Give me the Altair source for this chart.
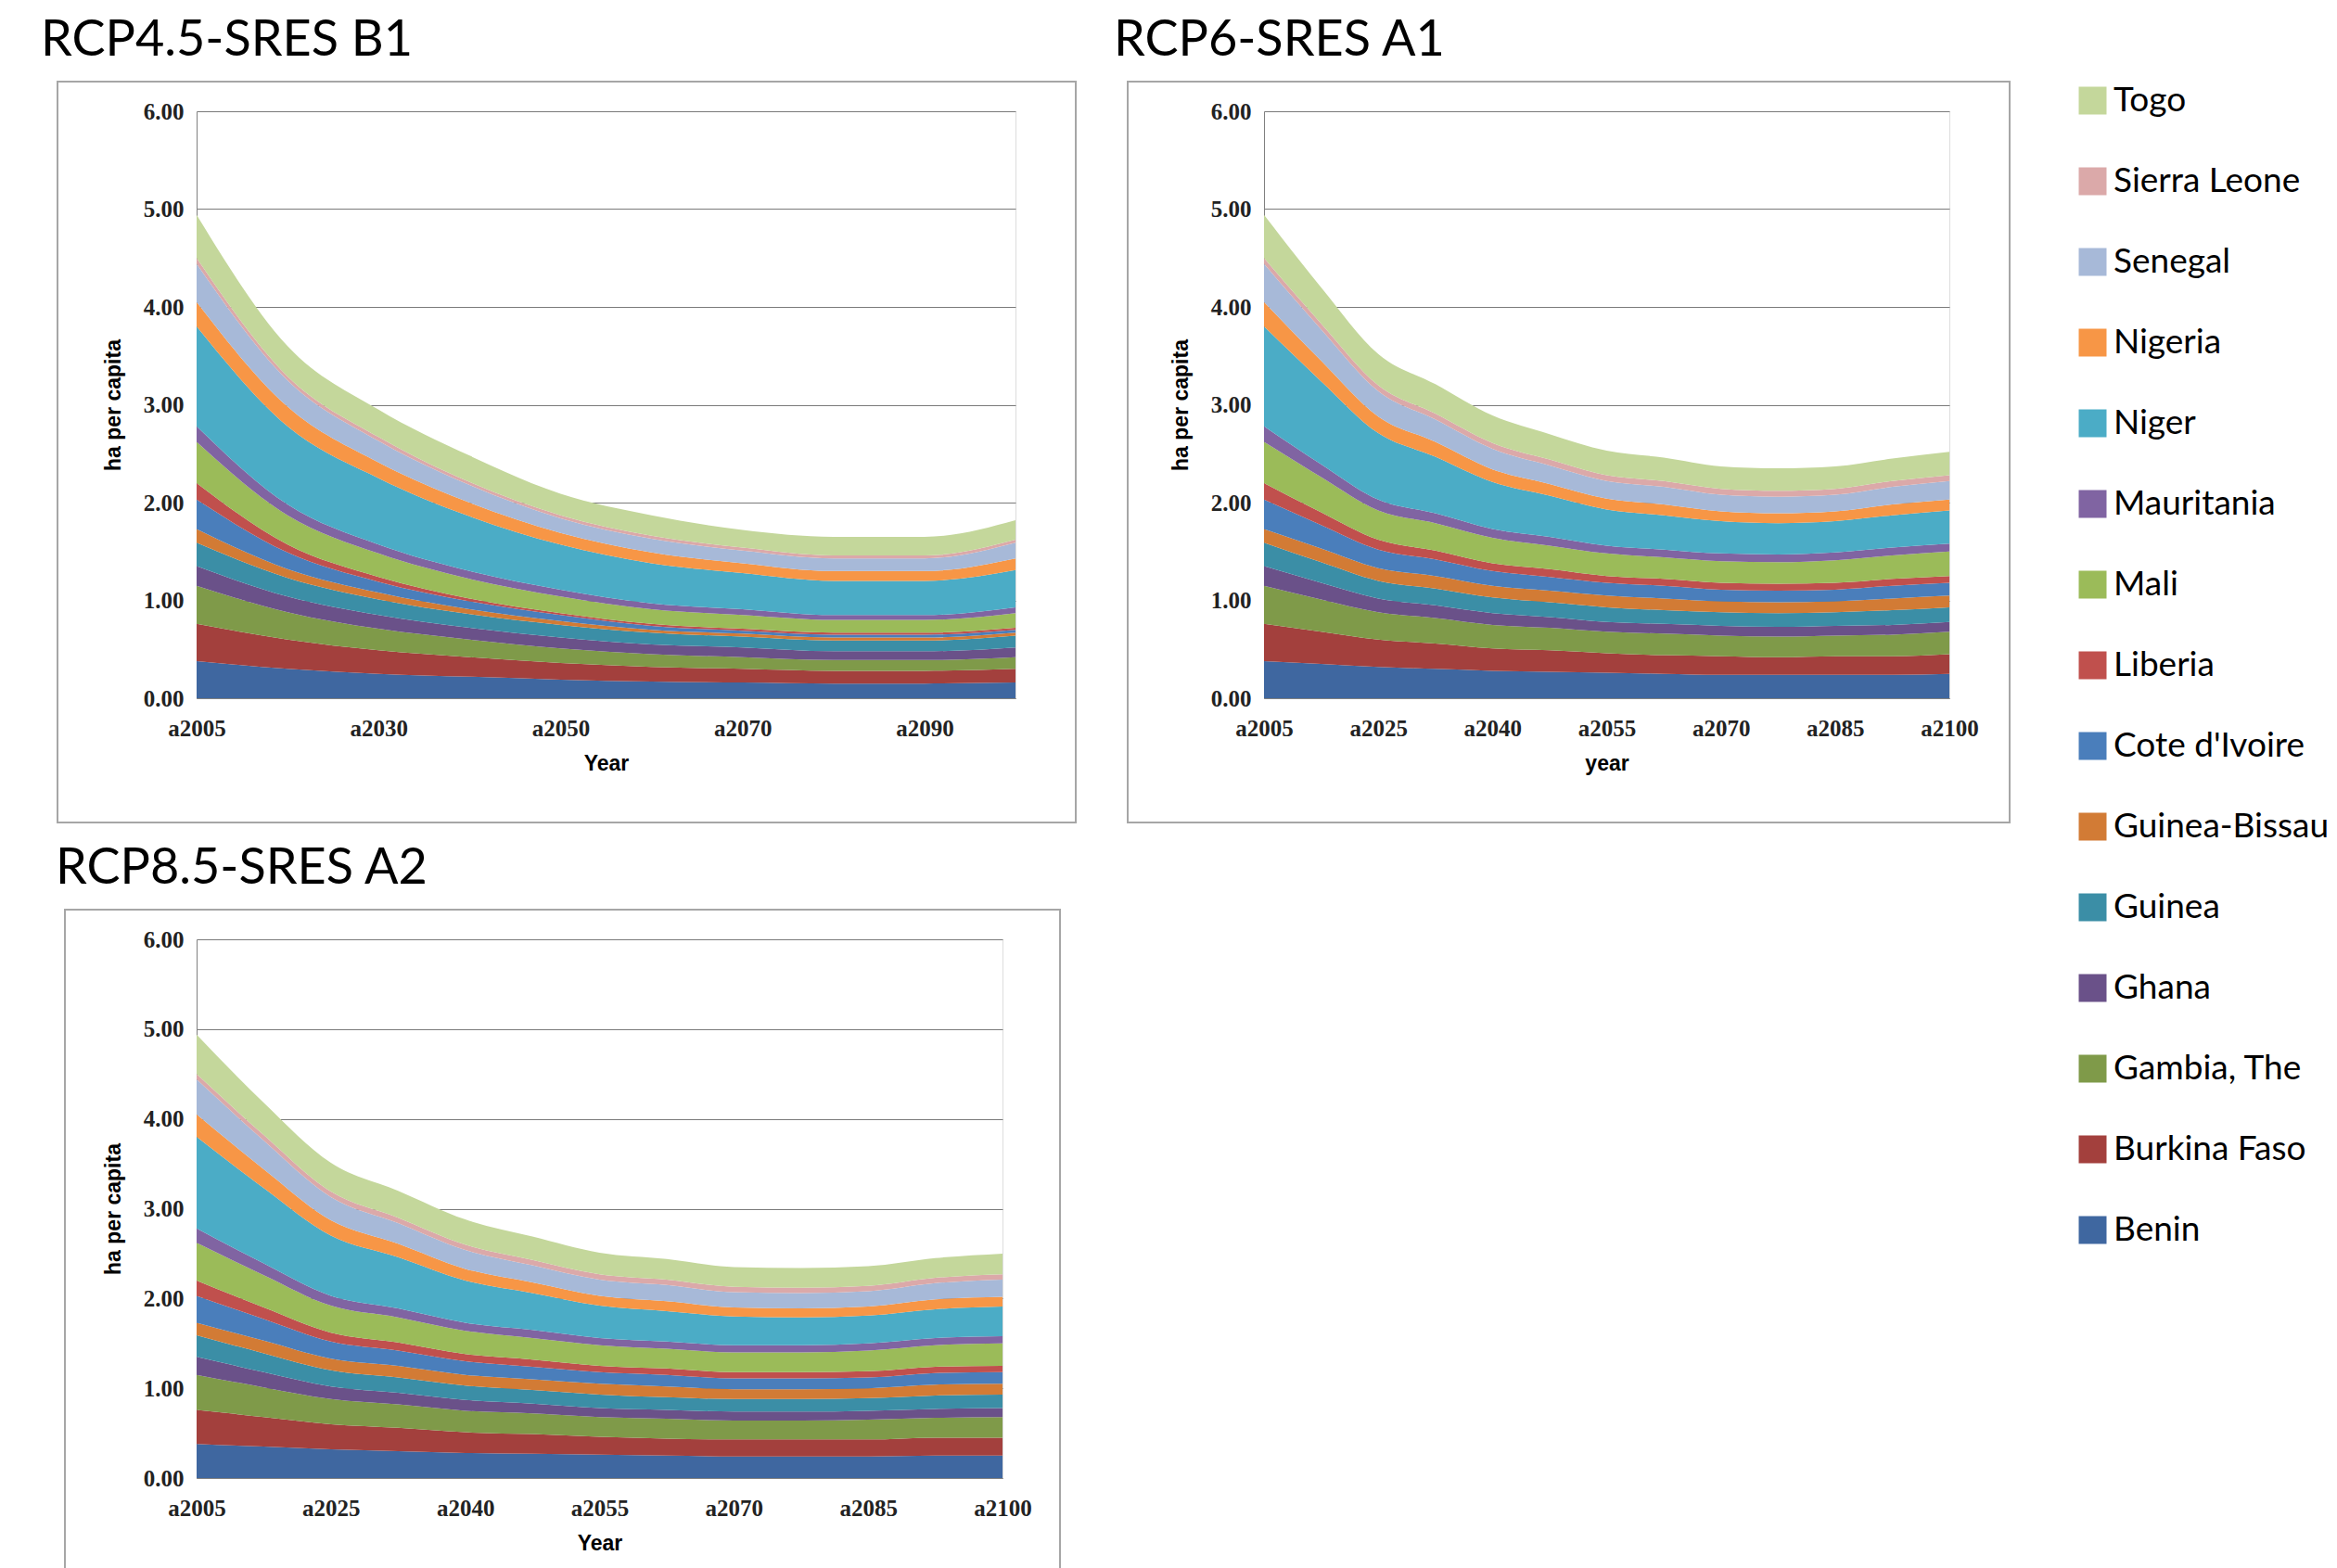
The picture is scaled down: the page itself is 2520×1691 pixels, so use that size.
import pandas as pd
import altair as alt

countries = ["Benin", "Burkina Faso", "Gambia, The", "Ghana", "Guinea", "Guinea-Bissau",
             "Cote d'Ivoire", "Liberia", "Mali", "Mauritania", "Niger", "Nigeria",
             "Senegal", "Sierra Leone", "Togo"]
colors = ["#3f67a0", "#a3403d", "#7f9a49", "#6a5189", "#3b8ea6", "#d27b35",
          "#4a7ebb", "#c0504d", "#9bbb59", "#8064a2", "#4bacc6", "#f79646",
          "#a7b9d8", "#dba9a9", "#c4d79b"]

# RCP4.5-SRES B1
years_b1 = ["a2005", "a2020", "a2030", "a2040", "a2050", "a2060", "a2070", "a2080", "a2090", "a2100"]
labels_b1 = ["a2005", "a2030", "a2050", "a2070", "a2090"]
b1 = [
    [.38, .30, .25, .22, .19, .17, .16, .15, .15, .16],
    [.38, .30, .24, .20, .17, .15, .14, .13, .13, .14],
    [.39, .28, .22, .18, .15, .13, .12, .11, .11, .12],
    [.20, .16, .14, .12, .11, .10, .10, .09, .09, .10],
    [.24, .19, .16, .14, .13, .12, .11, .11, .11, .12],
    [.14, .09, .07, .05, .04, .03, .03, .03, .03, .03],
    [.30, .17, .11, .08, .06, .04, .03, .03, .03, .03],
    [.17, .08, .05, .03, .02, .02, .02, .02, .02, .02],
    [.42, .30, .24, .20, .17, .15, .14, .13, .13, .15],
    [.16, .11, .09, .08, .07, .06, .06, .05, .05, .06],
    [1.02, .80, .68, .56, .46, .41, .37, .35, .35, .38],
    [.25, .20, .16, .14, .12, .11, .10, .10, .10, .12],
    [.39, .27, .22, .18, .15, .14, .13, .13, .13, .16],
    [.06, .04, .04, .03, .03, .03, .03, .03, .03, .03],
    [.44, .31, .28, .27, .22, .21, .18, .19, .19, .20],
]

# RCP6-SRES A1 and RCP8.5-SRES A2
years_a = ["a2005", "a2015", "a2025", "a2030", "a2040", "a2045", "a2055", "a2060",
           "a2070", "a2075", "a2085", "a2090", "a2100"]
labels_a = ["a2005", "a2025", "a2040", "a2055", "a2070", "a2085", "a2100"]
a1 = [
    [.38, .35, .32, .30, .28, .27, .26, .25, .24, .24, .24, .24, .25],
    [.38, .33, .28, .26, .23, .22, .20, .19, .19, .18, .19, .19, .20],
    [.39, .33, .28, .26, .24, .23, .22, .22, .21, .21, .21, .22, .23],
    [.20, .17, .14, .13, .12, .11, .10, .10, .10, .10, .10, .10, .10],
    [.24, .21, .18, .17, .16, .15, .15, .14, .14, .14, .14, .15, .15],
    [.14, .14, .13, .13, .12, .12, .12, .12, .11, .11, .11, .12, .12],
    [.30, .24, .19, .17, .15, .14, .13, .13, .12, .12, .12, .13, .13],
    [.17, .13, .10, .09, .08, .08, .07, .07, .07, .07, .07, .07, .07],
    [.42, .36, .30, .28, .26, .24, .23, .22, .22, .22, .23, .24, .25],
    [.16, .13, .11, .10, .09, .09, .08, .08, .08, .08, .08, .08, .08],
    [1.02, .85, .68, .58, .48, .42, .37, .35, .33, .32, .32, .33, .34],
    [.25, .21, .17, .15, .13, .12, .11, .11, .10, .10, .10, .11, .11],
    [.39, .32, .26, .23, .21, .19, .18, .18, .17, .17, .17, .18, .19],
    [.06, .06, .06, .06, .06, .06, .06, .06, .06, .06, .06, .06, .06],
    [.44, .37, .32, .30, .28, .26, .25, .24, .23, .23, .23, .23, .24],
]
a2 = [
    [.38, .35, .32, .30, .28, .27, .26, .25, .24, .24, .24, .25, .25],
    [.38, .33, .28, .26, .23, .22, .20, .19, .19, .19, .19, .20, .20],
    [.39, .33, .28, .26, .24, .23, .22, .22, .21, .21, .22, .22, .23],
    [.20, .17, .14, .13, .12, .11, .10, .10, .10, .10, .10, .10, .10],
    [.24, .21, .18, .17, .16, .15, .15, .14, .14, .14, .14, .15, .15],
    [.14, .14, .13, .13, .12, .12, .12, .12, .11, .11, .11, .12, .12],
    [.30, .24, .19, .17, .15, .14, .13, .13, .12, .12, .12, .13, .13],
    [.17, .13, .10, .09, .08, .08, .07, .07, .07, .07, .07, .07, .07],
    [.42, .36, .30, .28, .26, .24, .23, .22, .22, .22, .23, .24, .25],
    [.16, .13, .11, .10, .09, .09, .08, .08, .08, .08, .08, .08, .08],
    [1.02, .84, .67, .57, .47, .41, .36, .34, .32, .31, .31, .32, .33],
    [.25, .21, .17, .15, .13, .12, .11, .11, .10, .10, .10, .11, .11],
    [.39, .32, .26, .23, .21, .19, .18, .18, .17, .17, .17, .18, .19],
    [.06, .06, .06, .06, .06, .06, .06, .06, .06, .06, .06, .06, .06],
    [.44, .36, .32, .30, .28, .26, .24, .23, .22, .22, .22, .22, .23],
]

legend_order = countries[::-1]
legend_colors = colors[::-1]


def tidy(years, series):
    rows = []
    for k, (name, vals) in enumerate(zip(countries, series)):
        for yr, v in zip(years, vals):
            rows.append({"year": yr, "country": name, "ord": k, "value": v})
    return pd.DataFrame(rows)


def panel(years, series, labels, title, w, h, xtitle, fl, fr):
    df = tidy(years, series)
    area = alt.Chart(df).mark_area(interpolate="monotone").encode(
        x=alt.X("year:O", sort=years, scale=alt.Scale(type="point", padding=0),
                title=xtitle,
                axis=alt.Axis(values=labels, labelAngle=0, grid=False, ticks=False,
                              domainColor="#808080", labelFont="Liberation Serif",
                              labelFontSize=25, labelFontWeight="bold", labelColor="#222222",
                              labelPadding=20, titleFont="Liberation Sans",
                              titleFontSize=23, titleFontWeight="bold", titlePadding=14)),
        y=alt.Y("value:Q", stack="zero", title="ha per capita",
                scale=alt.Scale(domain=[0, 6]),
                axis=alt.Axis(values=[0, 1, 2, 3, 4, 5, 6], format=".2f", gridColor="#7a7a7a",
                              domainColor="#808080", ticks=False, labelFont="Liberation Serif",
                              labelFontSize=25, labelFontWeight="bold", labelColor="#222222",
                              labelPadding=14, titleFont="Liberation Sans",
                              titleFontSize=23, titleFontWeight="bold", titlePadding=20)),
        color=alt.Color("country:N", scale=alt.Scale(domain=legend_order, range=legend_colors),
                        legend=alt.Legend(title=None, orient="none", legendX=2026, legendY=-30,
                                          symbolType="square", symbolSize=900,
                                          symbolStrokeWidth=0, labelFont="Lato",
                                          labelFontSize=37, rowPadding=49, labelLimit=400)),
        order=alt.Order("ord:Q", sort="ascending"),
    )
    frame = alt.Chart(pd.DataFrame({"a": [0]})).mark_rect(
        filled=False, stroke="#a6a6a6", strokeWidth=2, clip=False
    ).encode(x=alt.value(-fl), x2=alt.value(w + fr), y=alt.value(-32), y2=alt.value(h + 134))
    return alt.layer(frame, area).properties(
        width=w, height=h,
        title=alt.TitleParams(title, anchor="start", font="Lato", fontSize=54,
                              fontWeight="normal", dx=-fl + 133, offset=16),
    )


p1 = panel(years_b1, b1, labels_b1, "RCP4.5-SRES B1", 883, 633, "Year", 150, 65)
p2 = panel(years_a, a1, labels_a, "RCP6-SRES A1", 739, 633, "year", 147, 65)
p3 = panel(years_a, a2, labels_a, "RCP8.5-SRES A2", 869, 581, "Year", 142, 62)

chart = alt.vconcat(alt.hconcat(p1, p2, spacing=38), p3, spacing=20).properties(
    padding={"left": 35, "top": 8, "right": 0, "bottom": 0}
).configure_view(stroke=None).configure(background="white")

chart.save("out.html", embed_options={"renderer": "svg", "actions": False})
